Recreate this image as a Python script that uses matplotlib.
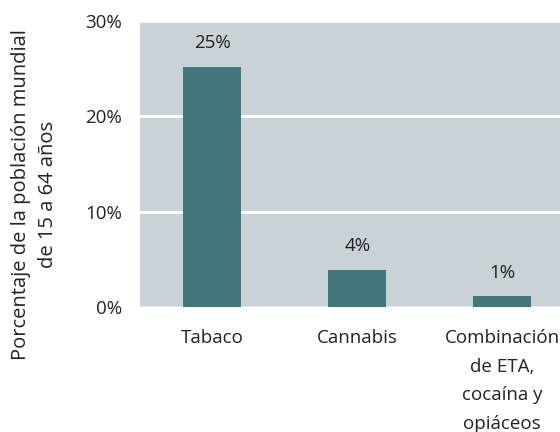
import matplotlib.pyplot as plt
import numpy as np

categories = ["Tabaco", "Cannabis", "Combinación\nde ETA,\ncocaína y\nopiáceos"]
values = [25.2, 3.9, 1.15]
value_labels = ["25%", "4%", "1%"]
yticks = [0, 10, 20, 30]
ytick_labels = ["0%", "10%", "20%", "30%"]

plt.rcParams['font.family'] = ['Open Sans', 'DejaVu Sans']
ps = 13.5

fig = plt.figure(figsize=(5.6, 4.32), dpi=100)
ax = fig.add_axes([0.25, 0.289, 0.75, 0.662])
ax.set_facecolor("#c9d2d5")
x = np.arange(len(categories))
ax.bar(x, values, width=0.4, color="#41767a", zorder=3)
for xi, v, lab in zip(x, values, value_labels):
    ax.annotate(lab, (xi, v), xytext=(0, 17), textcoords="offset points",
                ha="center", va="center", size=ps, color="#222222")
ax.set_xlim(-0.5, 2.4)
ax.set_ylim(0, 30)
ax.set_yticks(yticks)
ax.set_yticklabels(ytick_labels, size=ps, color="#222222")
ax.set_xticks(x)
ax.set_xticklabels(categories, size=ps, color="#222222", linespacing=1.75, va="top")
ax.tick_params(length=0, pad=16)
ax.tick_params(axis="y", pad=13)
ax.grid(axis="y", color="white", linewidth=2, zorder=1)
for s in ax.spines.values():
    s.set_visible(False)
ax.axhline(0, color="#e3e6e8", linewidth=1.5, zorder=2)
fig.text(0.062, 0.55, "Porcentaje de la población mundial\nde 15 a 64 años",
         rotation=90, ha="center", va="center", multialignment="center",
         size=14.5, color="#222222", linespacing=1.45)
plt.savefig("out.png", dpi=100)
